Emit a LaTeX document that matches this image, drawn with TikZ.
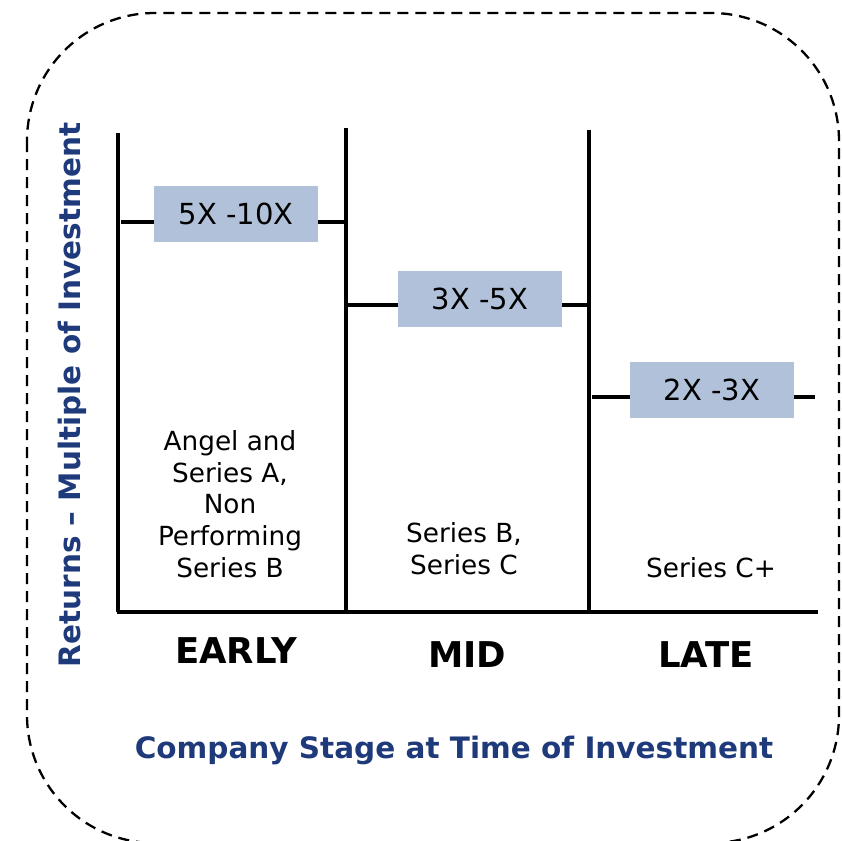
\documentclass[tikz,border=0pt]{standalone}
\usepackage{fontspec}
\setmainfont{DejaVu Sans}
\definecolor{navy}{RGB}{30,58,122}
\definecolor{boxfill}{RGB}{176,193,217}
\begin{document}
\begin{tikzpicture}[x=1pt,y=-1pt,
  axis/.style={line width=3.4pt, line cap=butt},
  frame/.style={line width=2.3pt, dash pattern=on 11pt off 7pt, rounded corners=128pt},
  rangebox/.style={fill=boxfill, minimum width=164pt, minimum height=56pt, inner sep=0pt,
    font=\fontsize{29}{32}\selectfont},
  bodytxt/.style={align=center, inner sep=0pt, font=\fontsize{26.3}{31.7}\selectfont},
  stagetxt/.style={inner sep=0pt, font=\fontsize{35.5}{38}\selectfont\bfseries},
  axistitle/.style={inner sep=0pt, text=navy, font=\fontsize{29.5}{33}\selectfont\bfseries}]
\useasboundingbox (0,0) rectangle (842,840);
% dashed frame
\draw[frame] (27,13) rectangle (839,843);
% axes
\coordinate (ytop) at (118,133);
\coordinate (ybot) at (118,612);
\coordinate (d1top) at (346,128);
\coordinate (d1bot) at (346,612);
\coordinate (d2top) at (589,130);
\coordinate (d2bot) at (589,612);
\coordinate (xl) at (117,612);
\coordinate (xr) at (818,612);
\draw[axis] (ytop) -- (ybot);
\draw[axis] (d1top) -- (d1bot);
\draw[axis] (d2top) -- (d2bot);
\draw[axis] (xl) -- (xr);
% range boxes
\node[rangebox] (b1) at (236,214) {5X -10X};
\node[rangebox] (b2) at (480,298.5) {3X -5X};
\node[rangebox] (b3) at (712,389.5) {2X -3X};
% level lines
\coordinate (l1a) at (121,222);
\coordinate (l1b) at (346,222);
\coordinate (l2a) at (346,305);
\coordinate (l2b) at (589,305);
\coordinate (l3a) at (592,397);
\coordinate (l3b) at (815,397);
\draw[axis] (l1a) -- (l1a -| b1.west);
\draw[axis] (l1b -| b1.east) -- (l1b);
\draw[axis] (l2a) -- (l2a -| b2.west);
\draw[axis] (l2b -| b2.east) -- (l2b);
\draw[axis] (l3a) -- (l3a -| b3.west);
\draw[axis] (l3b -| b3.east) -- (l3b);
% body texts
\node[bodytxt] (t1) at (230,504) {Angel and\\Series A,\\Non\\Performing\\Series B};
\node[bodytxt] (t2) at (464,549) {Series B,\\Series C};
\node[bodytxt] (t3) at (711,568) {Series C+};
% stage labels
\node[stagetxt] (s1) at (236,651) {EARLY};
\node[stagetxt] (s2) at (467,655) {MID};
\node[stagetxt] (s3) at (706,655) {LATE};
% axis titles
\node[axistitle] (xt) at (454,750) {Company Stage at Time of Investment};
\node[axistitle, rotate=90] (yt) at (72,395) {Returns – Multiple of Investment};
\end{tikzpicture}
\end{document}
